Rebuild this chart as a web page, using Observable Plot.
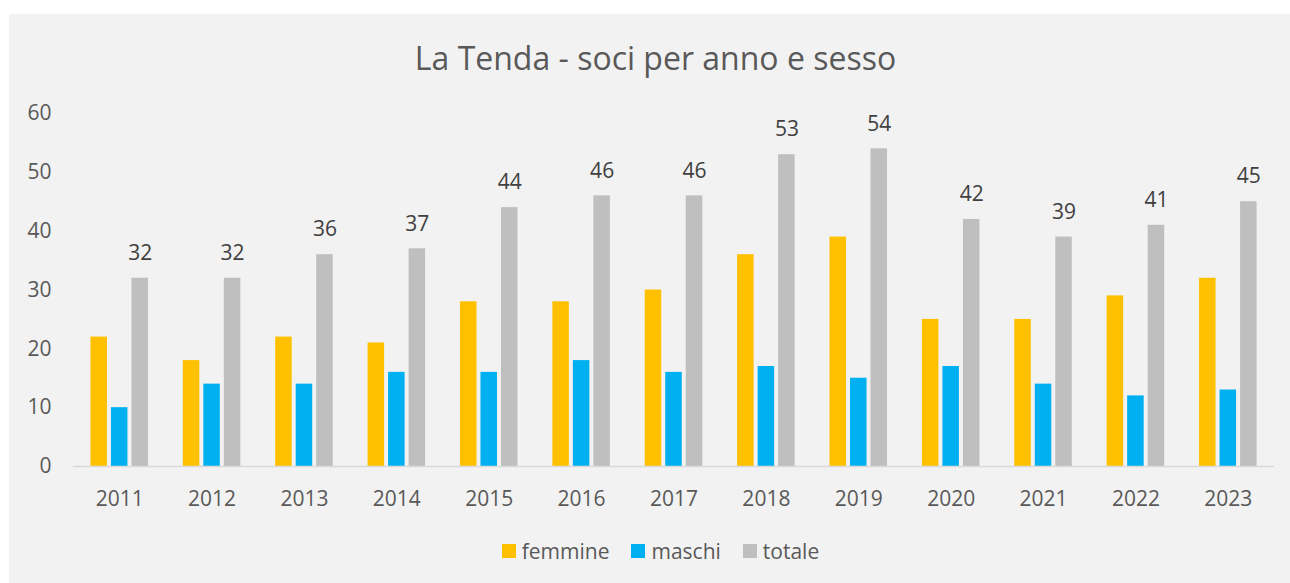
<!DOCTYPE html>
<html>
<head>
<meta charset="utf-8">
<script src="https://cdn.jsdelivr.net/npm/d3@7"></script>
<script src="https://cdn.jsdelivr.net/npm/@observablehq/plot@0.6"></script>
<style>
  html, body { margin: 0; padding: 0; background: #ffffff; }
  body { width: 1290px; height: 583px; overflow: hidden; position: relative; font-family: "Open Sans", sans-serif; }
  #panel { position: absolute; left: 9px; top: 14px; width: 1281px; height: 569px; background: #f2f2f2; }
  #title { position: absolute; left: 6px; top: 27.5px; width: 1281px; text-align: center; font-size: 32px; line-height: 32px; color: #595959; }
  #chart { position: absolute; left: 0; top: 0; }
  #legend { position: absolute; left: 11px; top: 522px; width: 1281px; height: 30px; display: flex; justify-content: center; align-items: center; font-size: 21px; color: #595959; }
  .item { display: flex; align-items: center; margin: 0 11px; }
  .sw { width: 14px; height: 14px; margin-right: 6px; }
</style>
</head>
<body>
<div id="panel">
  <div id="title">La Tenda - soci per anno e sesso</div>
  <div id="chart"></div>
  <div id="legend"></div>
</div>
<script>
const years = ["2011","2012","2013","2014","2015","2016","2017","2018","2019","2020","2021","2022","2023"];
const femmine = [22, 18, 22, 21, 28, 28, 30, 36, 39, 25, 25, 29, 32];
const maschi  = [10, 14, 14, 16, 16, 18, 16, 17, 15, 17, 14, 12, 13];
const totale  = [32, 32, 36, 37, 44, 46, 46, 53, 54, 42, 39, 41, 45];
const series = ["femmine", "maschi", "totale"];
const colors = ["#FFC000", "#00B0F0", "#BFBFBF"];
const yTicks = [0, 10, 20, 30, 40, 50, 60];

const values = {femmine, maschi, totale};
const rows = years.flatMap((year, i) => series.map(s => ({year, series: s, value: values[s][i]})));

const chart = Plot.plot({
  width: 1281,
  height: 510,
  marginTop: 99,
  marginBottom: 58,
  marginLeft: 64,
  marginRight: 16,
  style: {background: "transparent", fontFamily: "Open Sans", fontSize: "21px", color: "#595959"},
  fx: {domain: years, padding: 0, round: false, label: null, axis: "bottom", tickSize: 0, tickPadding: 25},
  x: {domain: series, paddingInner: 0.195, paddingOuter: 0.85, round: false, axis: null},
  y: {domain: [0, 60], ticks: yTicks, tickSize: 0, tickPadding: 22, label: null},
  color: {domain: series, range: colors},
  marks: [
    Plot.barY(rows, {fx: "year", x: "series", y: "value", fill: "series"}),
    Plot.ruleY([0], {stroke: "#d9d9d9", strokeWidth: 1.5}),
    Plot.text(rows.filter(d => d.series === "totale"), {
      fx: "year", x: "series", y: "value", text: d => String(d.value),
      dy: -25, fill: "#404040", fontSize: 21
    })
  ]
});
document.getElementById("chart").appendChild(chart);

const legend = document.getElementById("legend");
series.forEach((s, i) => {
  const item = document.createElement("div");
  item.className = "item";
  const sw = document.createElement("div");
  sw.className = "sw";
  sw.style.background = colors[i];
  const label = document.createElement("span");
  label.textContent = s;
  item.appendChild(sw);
  item.appendChild(label);
  legend.appendChild(item);
});
</script>
</body>
</html>
